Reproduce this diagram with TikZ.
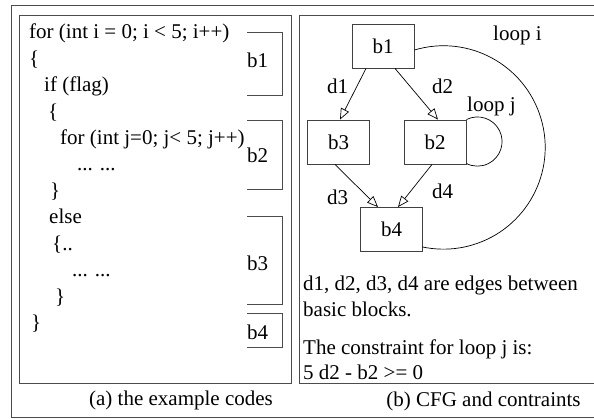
\documentclass[tikz,border=0pt]{standalone}
\usepackage{fontspec}
\setmainfont{Liberation Serif}
\usetikzlibrary{arrows.meta}
\begin{document}
\begin{tikzpicture}[x=1pt, y=1pt,
	every node/.style={font=\fontsize{21}{25}\selectfont},
	cadre/.style={draw=black!70, line width=1pt},
	bloc/.style={draw=black!75, line width=0.9pt, minimum width=62pt, minimum height=44pt, inner sep=0pt},
	texte/.style={anchor=base west, inner sep=0pt},
	arete/.style={-{Triangle[open, length=11pt, width=9pt]}, line width=0.7pt},
	boucle/.style={line width=0.7pt}]
	\useasboundingbox (0,0) rectangle (594,418);
	% les cadres
	\draw[cadre] (594,412) -| (11,1) -- (594,1);
	\draw[cadre] (19,402) rectangle (291,35);
	\draw[cadre] (594,402) -| (299,35) -- (594,35);
	% le code
	\foreach \x/\t [count=\i from 0] in {29/{for (int i = 0; i < 5; i++)}, 29/{\{}, 44/{if (flag)},
		48/{\{}, 60/{for (int j=0; j< 5; j++)}, 77/{... ...}, 50/{\}}, 49/{else},
		52/{\{..}, 72/{... ...}, 55/{\}}, 31/{\}}}
		\node[texte] (l\i) at (\x, 379-26.4*\i) {\t};
	% les blocs du code
	\foreach \h/\b/\n/\yl in {385/322/b1/350, 297/228/b2/255, 201/114/b3/148, 105/71/b4/79} {
		\draw[cadre] (247,\h) -| (282,\b) -- (247,\b);
		\node[texte] (m\n) at (247,\yl) {\n};
	}
	% le graphe
	\node[bloc] (b1) at (383,372) {b1};
	\node[bloc] (b3) at (338.5,276) {b3};
	\node[bloc] (b2) at (435,276) {b2};
	\node[bloc] (b4) at (391.5,188.5) {b4};
	\draw[arete] ([xshift=-17pt]b1.south) -- ([xshift=1.5pt]b3.north);
	\draw[arete] ([xshift=12pt]b1.south) -- ([xshift=3pt]b2.north);
	\draw[arete] ([xshift=-3.5pt]b3.south) -- ([xshift=-13.5pt]b4.north);
	\draw[arete] ([xshift=-3pt]b2.south) -- ([xshift=6.5pt]b4.north);
	\node[texte] (d1) at (327,324) {d1};
	\node[texte] (d2) at (432,324) {d2};
	\node[texte] (d3) at (327,213) {d3};
	\node[texte] (d4) at (432,219) {d4};
	% les boucles
	\draw[boucle] (b2.north east) arc[start angle=116.6, end angle=-116.6, radius=24.6];
	\draw[boucle] ([yshift=-4pt]b1.east) arc[start angle=106.6, end angle=-102.2, radius=101.7];
	\node[texte] (li) at (493,377) {loop i};
	\node[texte] (lj) at (467,306) {loop j};
	% la contrainte
	\node[texte] (n1) at (303,128) {d1, d2, d3, d4 are edges between};
	\node[texte] (n2) at (303,102) {basic blocks.};
	\node[texte] (n3) at (303,64) {The constraint for loop j is:};
	\node[texte] (n4) at (303,39) {5 d2 - b2 >= 0};
	% les legendes
	\node[anchor=base, inner sep=0pt] (ca) at (181,13) {(a) the example codes};
	\node[anchor=base, inner sep=0pt] (cb) at (483.5,12) {(b) CFG and contraints};
\end{tikzpicture}
\end{document}
